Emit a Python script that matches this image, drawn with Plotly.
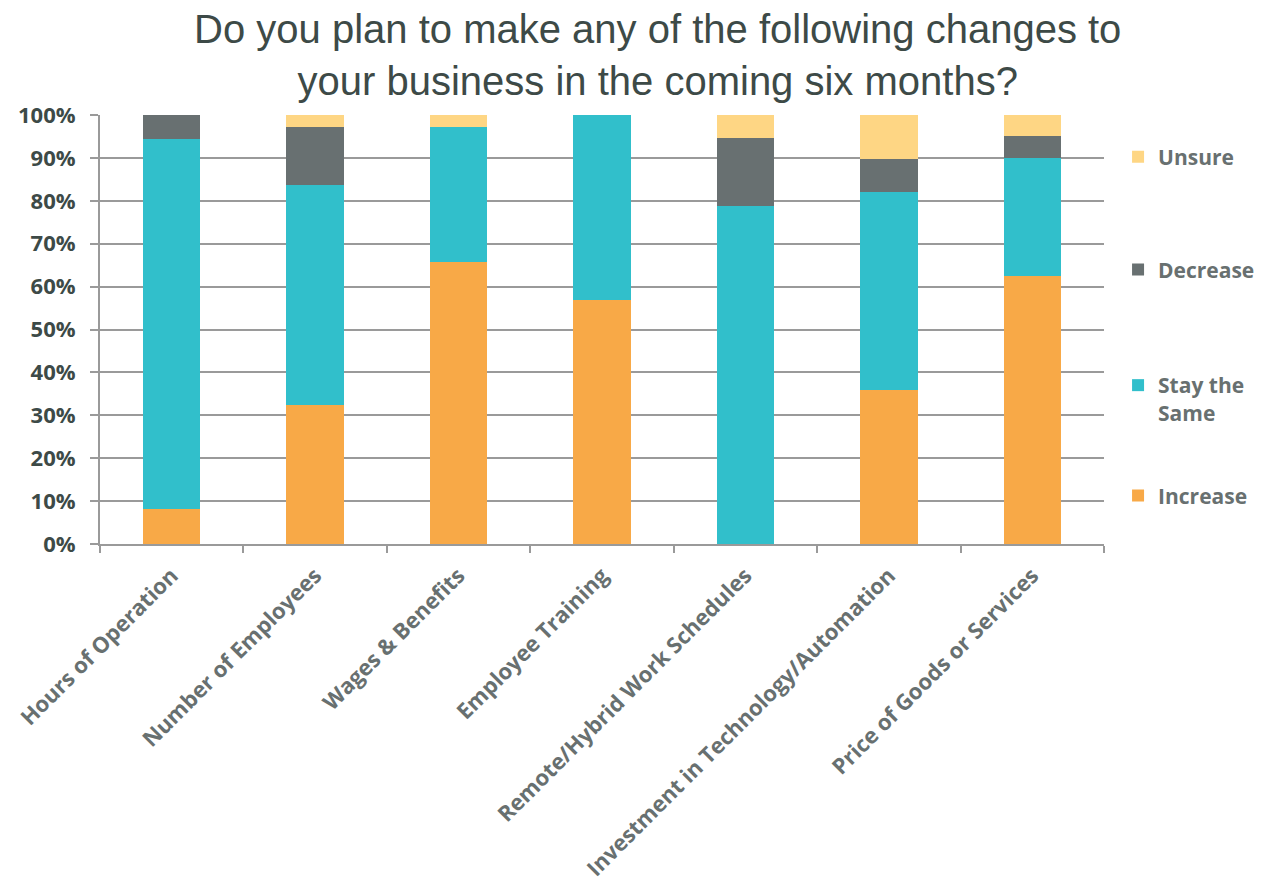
import plotly.graph_objects as go

categories = ["Hours of Operation", "Number of Employees", "Wages & Benefits",
              "Employee Training", "Remote/Hybrid Work Schedules",
              "Investment in Technology/Automation", "Price of Goods or Services"]
increase = [8.1, 32.3, 65.8, 56.8, 0, 36.0, 62.5]
stay_same = [86.4, 51.5, 31.4, 43.2, 78.9, 46.0, 27.4]
decrease = [5.5, 13.3, 0, 0, 15.7, 7.7, 5.1]
unsure = [0, 2.9, 2.8, 0, 5.4, 10.3, 5.0]

series_names = ["Increase", "Stay the<br>Same", "Decrease", "Unsure"]
series_values = [increase, stay_same, decrease, unsure]
colors = ["#F8A947", "#31BFCB", "#687071", "#FED684"]
legend_ids = ["legend4", "legend3", "legend2", "legend"]

fig = go.Figure()
for name, vals, col, lg in zip(series_names, series_values, colors, legend_ids):
    fig.add_trace(go.Bar(
        x=categories, y=vals, name=name, marker_color=col,
        marker_line_width=0, legend=lg, showlegend=True,
    ))

grid_col = "#9a9a9a"
label_font = dict(family="Open Sans", size=22, color="#687070", weight="bold")
legend_font = dict(family="Open Sans", size=21, color="#687070", weight="bold")

def legend_cfg(y, valign="middle"):
    return dict(x=1.014, xanchor="left", y=y, yanchor="middle", valign=valign,
                font=legend_font, bgcolor="rgba(0,0,0,0)", itemwidth=30)

fig.update_layout(
    width=1274, height=884,
    paper_bgcolor="white", plot_bgcolor="white",
    barmode="stack", bargap=0.6,
    showlegend=True,
    margin=dict(l=92, r=178, t=107, b=348, autoexpand=False),
    title=dict(
        text="Do you plan to make any of the following changes to<br>your business in the coming six months?",
        font=dict(family="Liberation Sans", size=40, color="#3D4A47"),
        x=0.51, xanchor="center", xref="container",
        y=0.960, yanchor="middle", yref="container",
    ),
    legend=legend_cfg(0.902),
    legend2=legend_cfg(0.639),
    legend3=legend_cfg(0.338, "top"),
    legend4=legend_cfg(0.112),
    xaxis=dict(
        showline=True, linecolor=grid_col, linewidth=2,
        ticks="outside", tickson="boundaries", ticklen=7, tickcolor=grid_col, tickwidth=2,
        tickangle=-45, tickfont=label_font, showgrid=False, automargin=False,
        ticklabelstandoff=8,
    ),
    yaxis=dict(
        range=[0, 100], dtick=10, ticksuffix="%",
        showline=True, linecolor=grid_col, linewidth=2,
        ticks="outside", ticklen=8, tickcolor=grid_col, tickwidth=2,
        showgrid=True, gridcolor=grid_col, gridwidth=2,
        zeroline=False, automargin=False, ticklabelstandoff=10,
        tickfont=dict(family="Open Sans", size=22, color="#3D4A47", weight="bold"),
    ),
)

fig.write_html("out.html")
